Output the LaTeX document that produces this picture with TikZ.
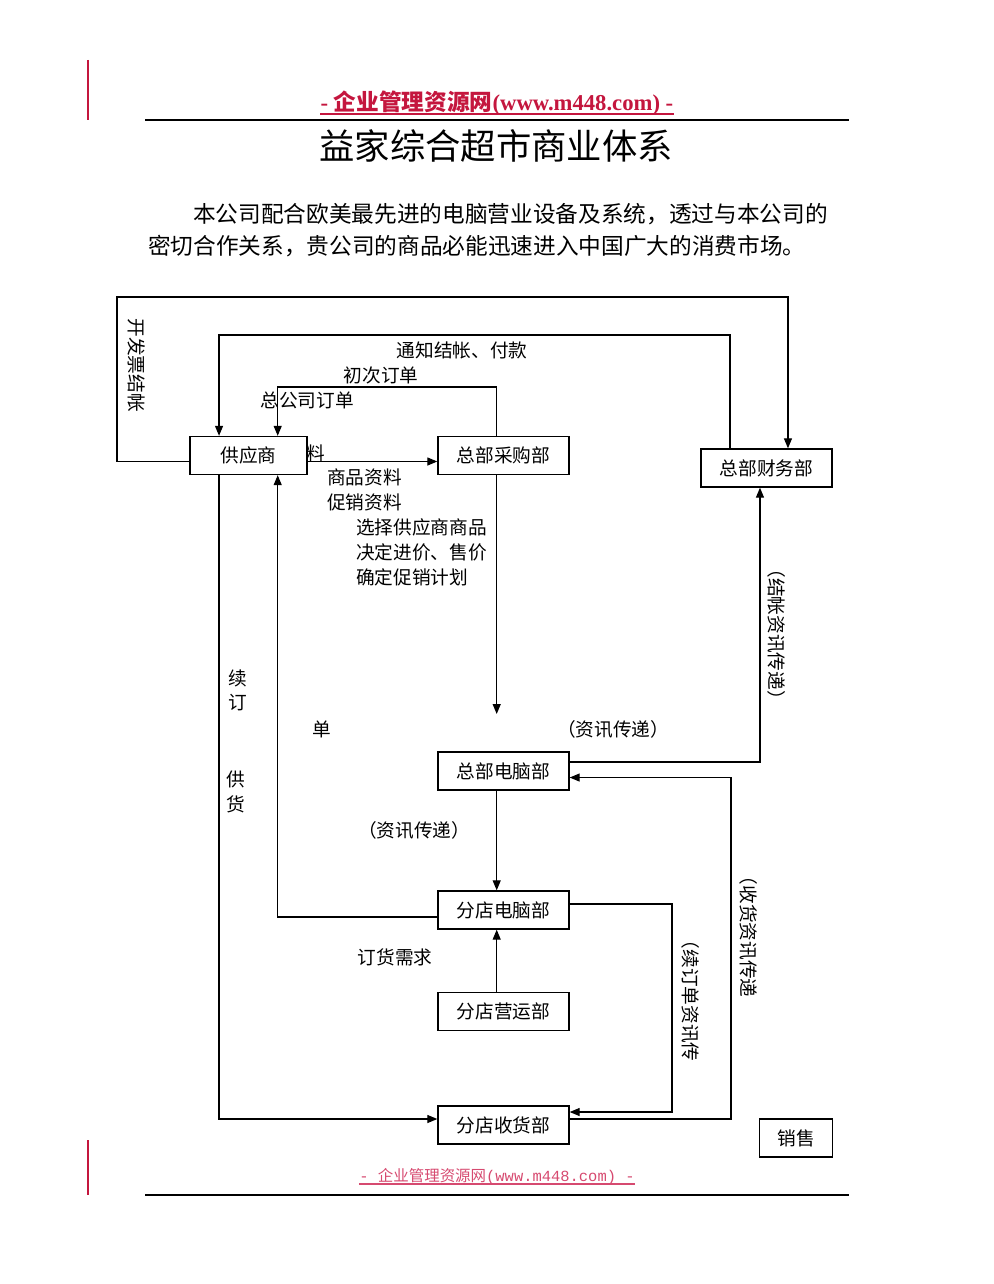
\documentclass[tikz,border=0pt]{standalone}
\usepackage{fontspec}
\setmainfont{Liberation Serif}
\newfontfamily\cjk{Noto Sans CJK SC}
\newfontfamily\monofam{Liberation Mono}
\usetikzlibrary{arrows.meta}
\definecolor{hdrred}{RGB}{196,22,62}
\definecolor{ftrred}{RGB}{214,74,112}
\tikzset{
  box/.style={draw, line width=1pt, minimum width=98.25pt, minimum height=28.5pt, inner sep=0pt,
    font=\cjk\fontsize{14pt}{16pt}\selectfont},
  lbl/.style={inner sep=0pt, font=\cjk\fontsize{14pt}{16pt}\selectfont},
  vlbl/.style={lbl, rotate=-90},
  ln/.style={line width=0.9pt},
  arr/.style={line width=0.9pt, -{Triangle[length=7.5pt,width=6pt]}}
}
\begin{document}
\begin{tikzpicture}[x=0.75pt,y=-0.75pt]
\useasboundingbox (0,0) rectangle (993,1284);
% page decorations
\draw[hdrred, line width=1.1pt] (88,60) -- (88,120);
\draw[hdrred, line width=1.1pt] (88,1140) -- (88,1195);
\node[inner sep=0pt, text=hdrred, font=\fontsize{17pt}{20pt}\selectfont] (hdr) at (497,103)
  {\textbf{- }{\cjk\bfseries 企业管理资源网}\textbf{(www.m448.com) -}};
\coordinate (hul) at (0,114);
\draw[hdrred, line width=1.6pt] (hdr.west |- hul) -- (hdr.east |- hul);
\draw[line width=1.1pt] (145,120) -- (849,120);
\node[inner sep=0pt, font=\cjk\fontsize{26.5pt}{30pt}\selectfont] (title) at (496,146) {益家综合超市商业体系};
\node[inner sep=0pt, anchor=west, font=\cjk\fontsize{17pt}{20pt}\selectfont] (p1) at (193,214)
  {本公司配合欧美最先进的电脑营业设备及系统，透过与本公司的};
\node[inner sep=0pt, anchor=west, font=\cjk\fontsize{17pt}{20pt}\selectfont] (p2) at (148,246)
  {密切合作关系，贵公司的商品必能迅速进入中国广大的消费市场。};

% boxes
\node[box, minimum width=87.75pt] (sup) at (248.5,455.5) {供应商};
\node[box] (buy) at (503.5,455.5) {总部采购部};
\node[box] (fin) at (766.5,468) {总部财务部};
\node[box] (hq) at (503.5,771) {总部电脑部};
\node[box] (bc) at (503.5,910) {分店电脑部};
\node[box] (bo) at (503.5,1011.5) {分店营运部};
\node[box] (br) at (503.5,1125) {分店收货部};
\node[box, minimum width=54.75pt] (sale) at (796,1138) {销售};

% connectors
\draw[arr] ([yshift=-4.5pt]sup.west) -| (117,297) -| ([xshift=16.1pt]fin.north);
\draw[arr] ([xshift=-27.4pt]fin.north) |- (475,335) -| ([xshift=-22.1pt]sup.north);
\draw[arr] ([xshift=-5.1pt]buy.north) |- (400,387) -| ([xshift=21.9pt]sup.north);
\draw[arr] ([yshift=-4.5pt]sup.east) -- ([yshift=-4.5pt]buy.west);
\coordinate (hqin) at (496.7,714);
\draw[arr] ([xshift=-5.1pt]buy.south) -- (hqin);
\draw[arr] ([xshift=-5.1pt]hq.south) -- ([xshift=-5.1pt]bc.north);
\draw[arr] ([yshift=-5.25pt]bc.west) -| ([xshift=21.9pt]sup.south);
\draw[arr] ([xshift=-22.1pt]sup.south) |- ([yshift=4.5pt]br.west);
\draw[arr] ([xshift=-5.1pt]bo.north) -- ([xshift=-5.1pt]bc.south);
\draw[arr] ([yshift=4.5pt]bc.east) -| (672,1000) |- ([yshift=9.75pt]br.east);
\draw[arr] ([yshift=4.5pt]br.east) -| (731,900) |- ([yshift=-4.9pt]hq.east);
\draw[arr] ([yshift=6.75pt]hq.east) -| ([xshift=-4.9pt]fin.south);

% labels
\node[vlbl] (l1) at (137,365) {开发票结帐};
\node[lbl] (l2) at (462,350) {通知结帐、付款};
\node[lbl] (l3) at (381,375) {初次订单};
\node[lbl] (l4) at (307,400) {总公司订单};
\node[lbl] (l5) at (316,453) {料};
\node[lbl, anchor=west] (l6) at (327,477) {商品资料};
\node[lbl, anchor=west] (l7) at (327,502) {促销资料};
\node[lbl, anchor=west] (l8) at (356,527) {选择供应商商品};
\node[lbl, anchor=west] (l9) at (356,552) {决定进价、售价};
\node[lbl, anchor=west] (l10) at (356,577) {确定促销计划};
\node[lbl] (l11) at (238,678) {续};
\node[lbl] (l12) at (238,703) {订};
\node[lbl] (l13) at (322,729) {单};
\node[lbl] (l14) at (236,779) {供};
\node[lbl] (l15) at (236,804) {货};
\node[lbl] (l16) at (613,729) {（资讯传递）};
\node[lbl] (l17) at (414,830) {（资讯传递）};
\node[lbl] (l18) at (395,957) {订货需求};
\node[vlbl] (l19) at (777,634) {（结帐资讯传递）};
\node[vlbl] (l20) at (749,932) {（收货资讯传递};
\node[vlbl] (l21) at (691,996) {（续订单资讯传};

% footer
\node[inner sep=0pt, text=ftrred, font=\monofam\fontsize{11.6pt}{14pt}\selectfont] (ftr) at (497,1177)
  {-~{\cjk 企业管理资源网}(www.m448.com)~-};
\coordinate (ful) at (0,1184);
\draw[ftrred, line width=0.8pt] (ftr.west |- ful) -- (ftr.east |- ful);
\draw[line width=1.1pt] (145,1195) -- (849,1195);
\end{tikzpicture}
\end{document}
